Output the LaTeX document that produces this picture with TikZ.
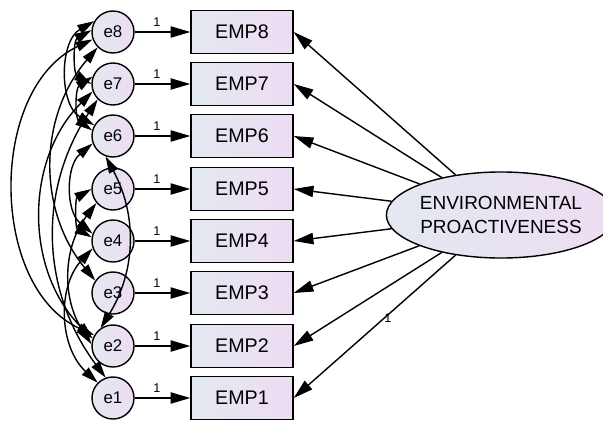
\documentclass[tikz,border=0pt]{standalone}
\usepackage{fontspec}
\setmainfont{Liberation Sans}
\usetikzlibrary{arrows.meta,shapes.geometric}

\definecolor{fillL}{RGB}{227,233,240}
\definecolor{fillR}{RGB}{238,220,243}

\begin{document}
\begin{tikzpicture}[x=0.025cm, y=-0.025cm,
    err/.style={circle, draw, line width=1pt, minimum size=1.05cm, inner sep=0pt,
        left color=fillL, right color=fillR, font=\fontsize{12}{14}\selectfont},
    item/.style={rectangle, draw, line width=1pt, minimum width=2.55cm, minimum height=1.075cm,
        left color=fillL, right color=fillR, font=\fontsize{14}{16}\selectfont},
    factor/.style={ellipse, draw, line width=1pt, minimum width=5.05cm, minimum height=2.15cm,
        inner sep=0pt, align=center, left color=fillL, right color=fillR,
        font=\fontsize{13.5}{16.5}\selectfont},
    path/.style={line width=1pt, -{Triangle[length=14pt,width=8pt]}},
    cov/.style={line width=1pt, {Triangle[length=12pt,width=7pt]}-{Triangle[length=12pt,width=7pt]}},
    one/.style={font=\fontsize{9}{10}\selectfont}]
        \useasboundingbox (0,0) rectangle (603,420);

        % Latent factor
        \node[factor] (F) at (501,215) {ENVIRONMENTAL\\PROACTIVENESS};

        % Items and error terms
        \foreach \i/\y in {8/32, 7/84, 6/136, 5/189, 4/241, 3/293, 2/346, 1/398} {
            \node[item] (EMP\i) at (242,\y) {EMP\i};
            \node[err] (e\i) at (113,\y) {e\i};
            \draw[path] (e\i) -- node[one, above, pos=0.4] {1} (EMP\i);
            \draw[path] (F) -- (EMP\i.east);
        }
        \node[one] (l1) at (388,318) {1};

        % Covariances between errors
        \draw[cov] (e8.200) to[bend right=65] (e2.150);
        \draw[cov] (e8.150) to[bend right=60] (e6.150);
        \draw[cov] (e8.175) to[bend right=60] (e7.180);
        \draw[cov] (e8.225) to[bend right=40] (e3.145);
        \draw[cov] (e7.200) to[bend right=45] (e2.160);
        \draw[cov] (e7.225) to[bend right=35] (e1.110);
        \draw[cov] (e7.160) to[bend right=55] (e6.165);
        \draw[cov] (e6.250) to[bend right=-30] (e2.125);
        \draw[cov] (e6.200) to[bend right=50] (e4.160);
        \draw[cov] (e5.180) to[bend right=60] (e4.170);
        \draw[cov] (e5.220) to[bend right=35] (e2.175);
        \draw[cov] (e4.200) to[bend right=45] (e1.135);

    \end{tikzpicture}
\end{document}
